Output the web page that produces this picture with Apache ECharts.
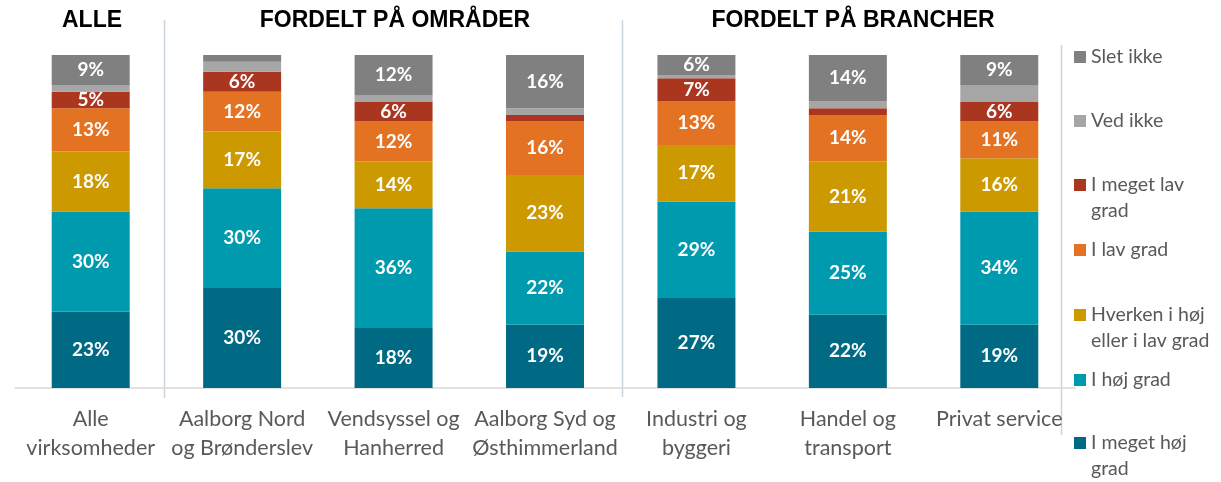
<!DOCTYPE html>
<html>
<head>
<meta charset="utf-8">
<script src="https://cdn.jsdelivr.net/npm/echarts@6/dist/echarts.min.js"></script>
<style>
  html, body { margin: 0; padding: 0; background: #fff; }
  #chart { width: 1221px; height: 482px; }
</style>
</head>
<body>
<div id="chart"></div>
<script>
// kategorier (x-akse)
const categories = [
  'Alle\nvirksomheder',
  'Aalborg Nord\nog Brønderslev',
  'Vendsyssel og\nHanherred',
  'Aalborg Syd og\nØsthimmerland',
  'Industri og\nbyggeri',
  'Handel og\ntransport',
  'Privat service'
]

// serier, nederst -> øverst (pct.)
const megetHoej = [23, 30, 18, 19, 27, 22, 19]
const hoej = [30, 30, 36, 22, 29, 25, 34]
const hverken = [18, 17, 14, 23, 17, 21, 16]
const lav = [13, 12, 12, 16, 13, 14, 11]
const megetLav = [5, 6, 6, 2, 7, 2, 6]
const vedIkke = [2, 3, 2, 2, 1, 2, 5]
const sletIkke = [9, 2, 12, 16, 6, 14, 9]

const seriesDefs = [
  { name: 'I meget høj grad', legend: 'I meget høj\ngrad', data: megetHoej, color: '#006a84' },
  { name: 'I høj grad', legend: 'I høj grad', data: hoej, color: '#009aaf' },
  { name: 'Hverken i høj eller i lav grad', legend: 'Hverken i høj\neller i lav grad', data: hverken, color: '#cc9900' },
  { name: 'I lav grad', legend: 'I lav grad', data: lav, color: '#e37222' },
  { name: 'I meget lav grad', legend: 'I meget lav\ngrad', data: megetLav, color: '#ab3620' },
  { name: 'Ved ikke', legend: 'Ved ikke', data: vedIkke, color: '#a6a6a6', noLabel: true },
  { name: 'Slet ikke', legend: 'Slet ikke', data: sletIkke, color: '#808080' }
]

// legende-positioner (midte af ikon), øverst -> nederst
const legendY = [443, 380, 315, 250, 185, 121, 57]

const LH = 26
let legends = seriesDefs.map(function (s, i) {
  let twoLines = s.legend.indexOf('\n') >= 0
  return {
    orient: 'vertical',
    left: 1074,
    top: legendY[i] - (twoLines ? 39 : 13),
    padding: 0,
    itemWidth: 12,
    itemHeight: 12,
    itemGap: 0,
    icon: 'rect',
    data: [s.name],
    // tom første linje, så ikonet flugter med første tekstlinje
    formatter: function () { return twoLines ? ' \n' + s.legend : s.legend },
    textStyle: {
      fontFamily: 'Lato',
      fontSize: 19.5,
      color: '#595959',
      lineHeight: LH
    }
  }
})

let myChart = echarts.init(document.getElementById('chart'))

let option = {
  animation: false,
  title: [
    { text: 'ALLE', left: 92, top: 9, textAlign: 'center' },
    { text: 'FORDELT PÅ OMRÅDER', left: 395, top: 9, textAlign: 'center' },
    { text: 'FORDELT PÅ BRANCHER', left: 853, top: 9, textAlign: 'center' }
  ].map(function (t) {
    t.textStyle = { fontFamily: 'Liberation Sans', fontWeight: 'bold', fontSize: 23, color: '#000' }
    t.padding = 0
    return t
  }),
  legend: legends,
  grid: { left: 15, right: 146, top: 55, bottom: 94 },
  xAxis: {
    type: 'category',
    data: categories,
    axisLine: { lineStyle: { color: '#d9d9d9', width: 1.5 } },
    axisTick: { show: false },
    axisLabel: {
      interval: 0,
      margin: 17,
      fontFamily: 'Lato',
      fontSize: 21.5,
      lineHeight: 29,
      color: '#595959'
    }
  },
  yAxis: {
    type: 'value',
    min: 0,
    max: 100,
    show: false
  },
  series: seriesDefs.map(function (s) {
    return {
      name: s.name,
      type: 'bar',
      stack: 'total',
      barWidth: '51.5%',
      data: s.data,
      itemStyle: { color: s.color },
      label: {
        show: !s.noLabel,
        position: 'inside',
        color: '#fff',
        fontFamily: 'Lato',
        fontWeight: 'bold',
        fontSize: 19,
        formatter: function (p) { return p.value >= 5 ? p.value + '%' : '' }
      }
    }
  }),
  graphic: [
    { type: 'line', shape: { x1: 164.5, y1: 20, x2: 164.5, y2: 398 }, style: { stroke: '#c9d5dc', lineWidth: 1.5 } },
    { type: 'line', shape: { x1: 622.5, y1: 20, x2: 622.5, y2: 397 }, style: { stroke: '#c9d5dc', lineWidth: 1.5 } },
    { type: 'line', shape: { x1: 1061.5, y1: 45, x2: 1061.5, y2: 435 }, style: { stroke: '#c9d5dc', lineWidth: 1.5 } }
  ]
}

myChart.setOption(option)
</script>
</body>
</html>
